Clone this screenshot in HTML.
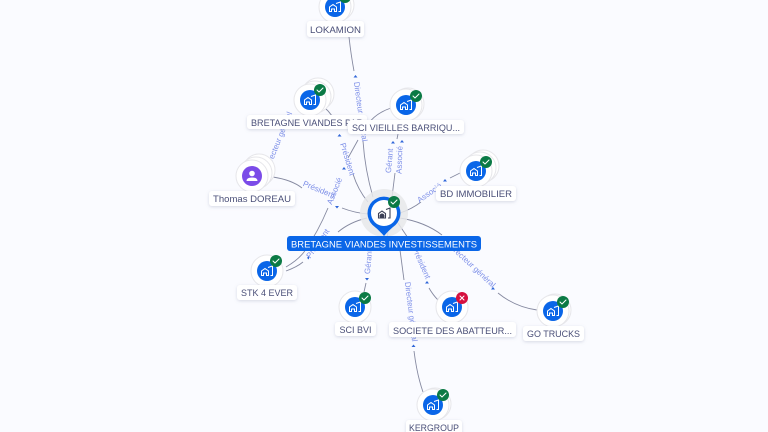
<!DOCTYPE html>
<html><head><meta charset="utf-8"><style>
html,body{margin:0;padding:0;background:#fafbff;width:768px;height:432px;overflow:hidden}
svg{display:block}
text{font-family:"Liberation Sans",sans-serif}
.n{font-size:9.5px;fill:#4a4f78;text-anchor:middle}
.e{font-size:8px;fill:#7d8fe8;text-anchor:middle}
.l{fill:none;stroke:#8589a0;stroke-width:.9}
.lb{fill:#fff;filter:url(#s)}
.w{fill:#fff;stroke:#e6e6ea;stroke-width:1}
.ck{fill:none;stroke:#fff;stroke-width:1;stroke-linecap:round;stroke-linejoin:round}
.ar{fill:#2f66d8}
</style></head><body>
<svg width="768" height="432" viewBox="0 0 768 432" xmlns="http://www.w3.org/2000/svg">
<defs>
<filter id="s" x="-20%" y="-40%" width="140%" height="200%"><feDropShadow dx="0" dy="1" stdDeviation="1.5" flood-color="#8088a8" flood-opacity=".3"/></filter>
<g id="ic"><path d="M-5.500 4.500v-4.500l3.500-2.500 3.500 2.500v4.500h-2v-2.500h-3v2.500zM1-3.500l4.500-1.500v9.500h-2" fill="none" stroke="#fff" stroke-width="1"/></g>
</defs>
<rect width="768" height="432" fill="#fafbff"/>

<!-- connectors -->
<path class="l" d="M349 37Q351 55 354 71"/>
<path class="l" d="M363 141Q365 170 373 197"/>
<path class="l" d="M325 108Q332 114 337 125"/>
<path class="l" d="M353 174Q358 190 368 202"/>
<path class="l" d="M358 140L348 158"/>
<path class="l" d="M391 108Q376 113 368 124"/>
<path class="l" d="M398 134L397 139"/>
<path class="l" d="M395 173L392 197"/>
<path class="l" d="M450 178L460 173"/>
<path class="l" d="M400 213Q412 209 421 202"/>
<path class="l" d="M273 177Q292 180 302 188"/>
<path class="l" d="M342 208Q355 213 368 214"/>
<path class="l" d="M367 218Q350 222 338 232"/>
<path class="l" d="M286 271Q297 267 303 262"/>
<path class="l" d="M286 267Q298 260 304 252Q318 232 328 208"/>
<path class="l" d="M366 283L364 292"/>
<path class="l" d="M400 250L404 280"/>
<path class="l" d="M414 351Q417 375 423 392"/>
<path class="l" d="M398 223L408 238"/>
<path class="l" d="M429 288Q433 295 438 300"/>
<path class="l" d="M400 218Q425 222 442 235"/>
<path class="l" d="M498 293Q515 307 537 310"/>
<path class="l" d="M388 232L386 246"/>

<!-- arrows -->
<path class="ar" d="M355.500 75l2 2.500h-4z"/>
<path class="ar" d="M339.500 134l2 2.500h-4z"/>
<path class="ar" d="M393 141l2 2.500h-4z"/>
<path class="ar" d="M402 140l2 2.500h-4z"/>
<path class="ar" d="M344 167l2 2.500h-4z"/>
<path class="ar" d="M445 179l2 2.500h-4z"/>
<path class="ar" d="M337 208.500l2-2.500h-4z"/>
<path class="ar" d="M307 258l2-2.500v4z"/>
<path class="ar" d="M367 280.500l2-2.500h-4z"/>
<path class="ar" d="M427 281l2 2.500h-4z"/>
<path class="ar" d="M493 287l2 2.500h-4z"/>
<path class="ar" d="M413.500 344.500l2 2.500h-4z"/>

<!-- connector labels -->
<text class="e" transform="translate(358 112) rotate(82)" textLength="60" lengthAdjust="spacingAndGlyphs">Directeur général</text>
<text class="e" transform="translate(345 160) rotate(73)">Président</text>
<text class="e" transform="translate(281 141) rotate(-68)" textLength="60" lengthAdjust="spacingAndGlyphs">Directeur général</text>
<text class="e" transform="translate(392 161) rotate(-85)">Gérant</text>
<text class="e" transform="translate(402 160) rotate(-88)">Associé</text>
<text class="e" transform="translate(431 195) rotate(-35)">Associé</text>
<text class="e" transform="translate(318 192) rotate(22)">Président</text>
<text class="e" transform="translate(337 192) rotate(-68)">Associé</text>
<text class="e" transform="translate(320 245) rotate(-55)">Président</text>
<text class="e" transform="translate(371 262) rotate(-85)">Gérant</text>
<text class="e" transform="translate(408.500 312) rotate(83)" textLength="60" lengthAdjust="spacingAndGlyphs">Directeur général</text>
<text class="e" transform="translate(419 264) rotate(66)">Président</text>
<text class="e" transform="translate(470 267) rotate(43)">Directeur général</text>

<!-- LOKAMION -->
<circle class="w" cx="338" cy="5" r="16"/><circle class="w" cx="335" cy="7" r="16"/>
<circle cx="335" cy="7" r="10" fill="#0a66e8"/><use href="#ic" x="335" y="7"/>
<circle cx="345" cy="-3" r="6" fill="#0b7a45"/>
<rect class="lb" x="307" y="21" width="57" height="16" rx="3"/><text class="n" x="335.500" y="33" textLength="51" lengthAdjust="spacingAndGlyphs">LOKAMION</text>

<!-- BRETAGNE VIANDES -->
<circle class="w" cx="318" cy="94" r="16"/><circle class="w" cx="315" cy="97" r="16"/><circle class="w" cx="310" cy="100" r="16"/>
<circle cx="310" cy="100" r="10" fill="#0a66e8"/><use href="#ic" x="310" y="100"/>
<circle cx="320" cy="90" r="6" fill="#0b7a45"/><path class="ck" d="M317 90l2 2 4-4"/>
<rect class="lb" x="247" y="115" width="120" height="14" rx="3"/><text class="n" x="251" y="126" style="text-anchor:start" textLength="112" lengthAdjust="spacingAndGlyphs">BRETAGNE VIANDES PAR</text>

<!-- SCI VIEILLES -->
<circle class="w" cx="408" cy="104" r="16"/><circle class="w" cx="406" cy="105" r="16"/>
<circle cx="406" cy="105" r="10" fill="#0a66e8"/><use href="#ic" x="406" y="105"/>
<circle cx="416" cy="96" r="6" fill="#0b7a45"/><path class="ck" d="M413 96l2 2 4-4"/>
<rect class="lb" x="348" y="120" width="116" height="14" rx="3"/><text class="n" x="406" y="131" textLength="108" lengthAdjust="spacingAndGlyphs">SCI VIEILLES BARRIQU...</text>

<!-- Thomas -->
<circle class="w" cx="259" cy="170" r="16"/><circle class="w" cx="256" cy="173" r="16"/><circle class="w" cx="252" cy="176" r="16"/>
<circle cx="252" cy="176" r="10" fill="#7b4be8"/>
<circle cx="252" cy="173.500" r="2.800" fill="#fff"/><path d="M246.500 181q0-3.500 5.500-3.500t5.500 3.500z" fill="#fff"/>
<rect class="lb" x="209" y="191" width="86" height="15" rx="3"/><text class="n" x="252" y="202" textLength="78" lengthAdjust="spacingAndGlyphs">Thomas DOREAU</text>

<!-- BD IMMOBILIER -->
<circle class="w" cx="483" cy="166" r="16"/><circle class="w" cx="480" cy="168" r="16"/><circle class="w" cx="476" cy="171" r="16"/>
<circle cx="476" cy="171" r="10" fill="#0a66e8"/><use href="#ic" x="476" y="171"/>
<circle cx="486" cy="162" r="6" fill="#0b7a45"/><path class="ck" d="M483 162l2 2 4-4"/>
<rect class="lb" x="436" y="186" width="80" height="15" rx="3"/><text class="n" x="476" y="197" textLength="72" lengthAdjust="spacingAndGlyphs">BD IMMOBILIER</text>

<!-- STK -->
<circle class="w" cx="267" cy="271" r="16"/>
<circle cx="267" cy="271" r="10" fill="#0a66e8"/><use href="#ic" x="267" y="271"/>
<circle cx="276" cy="261" r="6" fill="#0b7a45"/><path class="ck" d="M273 261l2 2 4-4"/>
<rect class="lb" x="237" y="285" width="60" height="15" rx="3"/><text class="n" x="267" y="296" textLength="52" lengthAdjust="spacingAndGlyphs">STK 4 EVER</text>

<!-- SCI BVI -->
<circle class="w" cx="355" cy="307" r="16"/>
<circle cx="355" cy="307" r="10" fill="#0a66e8"/><use href="#ic" x="355" y="307"/>
<circle cx="365" cy="298" r="6" fill="#0b7a45"/><path class="ck" d="M362 298l2 2 4-4"/>
<rect class="lb" x="335" y="322" width="41" height="14" rx="3"/><text class="n" x="355.500" y="333" textLength="32" lengthAdjust="spacingAndGlyphs">SCI BVI</text>

<!-- SOCIETE -->
<circle class="w" cx="452" cy="307" r="16"/>
<circle cx="452" cy="307" r="10" fill="#0a66e8"/><use href="#ic" x="452" y="307"/>
<circle cx="462" cy="298" r="6" fill="#d5103f"/><path class="ck" d="M460 296l4 4m0-4l-4 4"/>
<rect class="lb" x="389" y="322" width="127" height="15" rx="3"/><text class="n" x="452.500" y="334" textLength="119" lengthAdjust="spacingAndGlyphs">SOCIETE DES ABATTEUR...</text>

<!-- GO TRUCKS -->
<circle class="w" cx="555" cy="310" r="16"/><circle class="w" cx="553" cy="311" r="16"/>
<circle cx="553" cy="311" r="10" fill="#0a66e8"/><use href="#ic" x="553" y="311"/>
<circle cx="563" cy="302" r="6" fill="#0b7a45"/><path class="ck" d="M560 302l2 2 4-4"/>
<rect class="lb" x="523" y="326" width="61" height="15" rx="3"/><text class="n" x="553.500" y="337" textLength="53" lengthAdjust="spacingAndGlyphs">GO TRUCKS</text>

<!-- KERGROUP -->
<circle class="w" cx="435" cy="404" r="16"/><circle class="w" cx="433" cy="405" r="16"/>
<circle cx="433" cy="405" r="10" fill="#0a66e8"/><use href="#ic" x="433" y="405"/>
<circle cx="443" cy="395" r="6" fill="#0b7a45"/><path class="ck" d="M440 395l2 2 4-4"/>
<rect class="lb" x="406" y="420" width="56" height="16" rx="3"/><text class="n" x="434" y="431" textLength="50" lengthAdjust="spacingAndGlyphs">KERGROUP</text>

<!-- main -->
<circle cx="384" cy="213" r="24" fill="#e6e7ea" opacity=".85"/>
<path d="M384 236Q379 230 372.500 225A16.500 16.500 0 1 1 395.500 225Q389 230 384 236Z" fill="#0a66e8"/>
<circle cx="384" cy="213" r="13" fill="#fff"/>
<path d="M378.500 218v-4.500l3.500-2.500 3.500 2.500v4.500zM386 209.500l4-1.500v10h-2" fill="none" stroke="#3a3f55" stroke-width="1.100"/>
<circle cx="382" cy="216" r="2.500" fill="#3a3f55"/>
<circle cx="394" cy="202" r="6" fill="#0b7a45"/><path class="ck" d="M391 202l2 2 4-4"/>
<rect x="287" y="236" width="194" height="15" rx="3" fill="#0a66e8"/>
<text class="n" x="384" y="247.500" style="fill:#fff" textLength="186" lengthAdjust="spacingAndGlyphs">BRETAGNE VIANDES INVESTISSEMENTS</text>
</svg>
</body></html>
